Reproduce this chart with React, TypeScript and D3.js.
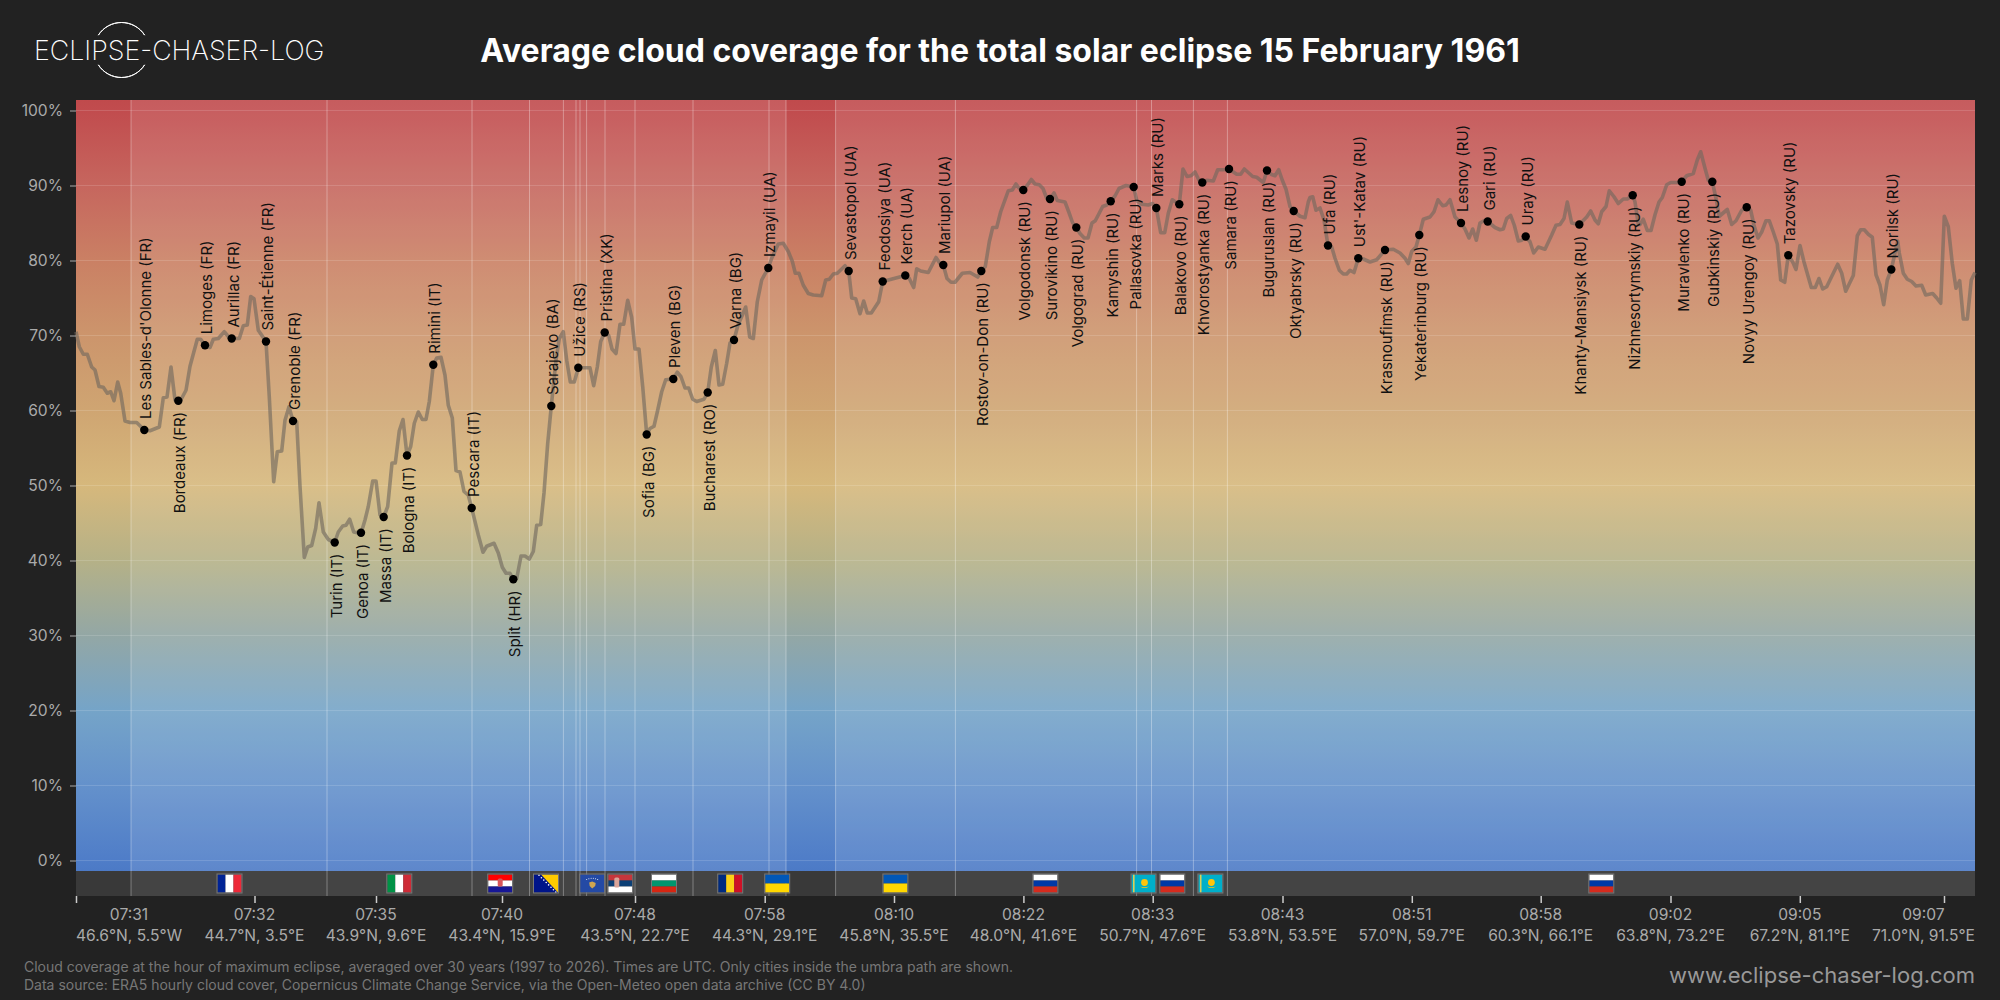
import React, { useEffect, useRef } from 'react';
import * as d3 from 'd3';

const FONT = 'Inter, "Noto Sans", sans-serif';

// position along the umbra track (0 = start of the plotted track) and cloud cover in %
const trackPos = [
  0, 3.3, 7.3, 11.3, 15.7, 19, 23, 27.3, 31.3, 34.7, 38, 41.7, 44.7, 49, 54, 60.7, 68.3, 74, 83.3, 87.3, 91, 95, 99, 104, 110, 114, 121.3, 124.7, 129, 134, 137.3, 142.3, 148.3, 152.7, 155.7, 163.3, 167.3, 171.3, 174.7, 178, 182.3, 190, 193.3, 197.7, 201.3, 205.7, 209, 213, 217, 220.7, 224, 228.3, 231.7, 235.7, 239.7, 243, 247.3, 252.3, 258.7, 262.3, 266.7, 270, 273.7, 277.7, 285, 289, 292.3, 296.7, 300, 304, 307.7, 311.7, 316, 319.3, 323.3, 327, 331, 334.7, 338.3, 342.3, 346.3, 350, 353.3, 357.3, 360.7, 365, 369, 372.3, 376.3, 380, 384, 388, 392.3, 395.7, 402.3, 407, 410.7, 418, 422.3, 426.3, 430, 434, 437.3, 440.7, 445, 449, 453.3, 457.3, 460.7, 464.7, 468, 471.7, 475.3,
  480, 483.3, 487.3, 490.7, 494.3, 498.3, 502.3, 514, 517.7, 521.3, 524.7, 528.7, 532.7, 536, 540, 544, 547.7, 551.7, 555.7, 559, 563, 566.7, 570.7, 574, 578, 581.3, 585.7, 589.7, 597.3, 601.3, 605, 609, 612.7, 616.7, 620.7, 628, 631.7, 635.3, 639.3, 643, 646.7, 650.7, 654, 658, 662, 666.3, 669.7, 673.7, 677.3, 681.3, 685.7, 692.3, 695.7, 702.3, 707.3, 712.3, 716.3, 719.3, 723, 727.3, 732.3, 737.3, 745.7, 749.7, 753.3, 757.3, 761.3, 769, 772.7, 775.7, 779.7, 784, 787.7, 791.3, 795.3, 802.7, 806.7,
  829.3, 833.3, 837.7, 840.7, 844.7, 852.3, 860, 864, 867.3, 871, 875, 879, 886.3, 894, 901.7, 905.3, 909.3, 913.3, 916.7, 920.7, 924.7, 932.3, 936.3, 940, 944, 947.3, 951.7, 955.3, 959, 963.3, 967, 970.7, 974, 978, 981.3, 989, 992.7, 996.7, 1000.3, 1004, 1008.3, 1012, 1016, 1019.3, 1026.7, 1030.7, 1034.7, 1039, 1043, 1050, 1057.7, 1060.7, 1065.7, 1072.3, 1076.7, 1080.3, 1084.7, 1088.7, 1092.3, 1096.3, 1099.7, 1103.3, 1107, 1111, 1115, 1119, 1123, 1126.3, 1130.7, 1137.3, 1141.7, 1147.3, 1153, 1160.7, 1164.7, 1168.3, 1176.7, 1180.7, 1187.3, 1191, 1195, 1199, 1202.7, 1206.3, 1210, 1214, 1217.7,
  1224, 1229, 1232.3, 1234, 1236.7, 1240, 1244, 1248, 1252, 1255.7, 1259, 1263.3, 1267.3, 1270.7, 1274, 1278, 1282.3, 1287.3, 1294, 1300.7, 1309, 1317.3, 1324, 1329, 1332.3, 1335.7, 1340, 1343.3, 1347.3, 1354, 1358, 1362, 1366.7, 1370, 1374, 1379, 1385, 1389, 1393, 1396.7, 1400.3, 1404, 1408, 1411.7, 1419, 1424, 1427.3, 1430.7, 1434.7, 1438.3, 1442.3, 1445.7, 1449.7, 1454, 1457.7, 1462.3, 1469, 1475.7, 1480, 1484, 1488, 1491.3, 1495.7, 1503.3, 1510.7, 1514.7, 1519, 1522.3, 1525.7, 1530, 1533.3, 1538, 1542.3, 1547.3, 1551.3, 1556.7,
  1559, 1562.3, 1564, 1567.3, 1571.3, 1575, 1579, 1583, 1586.3, 1590.7, 1594.7, 1601.7, 1605.7, 1610.7, 1617.3, 1621.3, 1624.7, 1629, 1632.3, 1636.3, 1640, 1643.3, 1651.3, 1655.7, 1660, 1665.7, 1670.7, 1674.7, 1678, 1682, 1685.7, 1690, 1693.3, 1697.3, 1701.3, 1704.7, 1708.7, 1712.3, 1716.7, 1720, 1724, 1728, 1735.3, 1739.3, 1743, 1746.7, 1750.7, 1758, 1761.7, 1765.7, 1769.7, 1777.3, 1781.3, 1784.7, 1788.3, 1792.3, 1796.3, 1800, 1804, 1807.7, 1811.3, 1815.3, 1819, 1821.7, 1823.3, 1827.3, 1831.3, 1835.7, 1840, 1845.7, 1849.7, 1856.7, 1860.7, 1864.7, 1868.3, 1872.3, 1876.3, 1880, 1883.7, 1887.3, 1891.3, 1895.3, 1899,
];

const cloudPct = [
  70.5, 68.5, 67.5, 67.5, 65.8, 65.4, 63.2, 63.1, 62.3, 62.5, 61.3, 63.8, 62.3, 58.6, 58.4, 58.4, 57.4, 57.3, 57.8, 61.7, 61.8, 65.8, 61.4, 61.2, 62.7, 65.9, 69.5, 69.5, 68.7, 68.4, 69.5, 69.6, 70.5, 69.8, 69.6, 69.6, 71.3, 71.4, 75.2, 74.9, 70.7, 69.2, 61.8, 50.5, 54.5, 54.6, 58.7, 60.5, 58.6, 58.5, 49.9, 40.4, 41.8, 42, 44.3, 47.7, 43.8, 42.8, 42.4, 43.8, 44.6, 44.7, 45.5, 43.8, 43.6, 45.4, 47.2, 50.6, 50.6, 46.1, 45.8, 47.2, 53, 53, 57.3, 58.8, 54, 55.2, 58.3, 59.8, 58.8, 58.8, 61.2, 66.1, 67, 67.1, 64.7, 60.7, 59, 52, 51.8, 49.2, 48.7, 47, 43.4, 41.1, 41.9, 42.3, 41, 39.1, 38.3, 38.3, 37.5, 37.6, 40.6, 40.6, 40.2, 41.2, 44.7, 44.8, 49, 55.6, 60.6,
  66.7, 69.6, 70.5, 66.7, 63.8, 63.8, 65.7, 65.7, 63.3, 65.8, 69.2, 70.4, 70, 68.2, 67.6, 71.5, 71.5, 74.7, 72.4, 68.2, 68.2, 63.2, 56.8, 57.6, 57.9, 59.8, 62.5, 64.1, 64.2, 65.1, 64.5, 63, 63, 61.5, 61.2, 61.5, 62.4, 65.8, 68, 63.4, 63.5, 66.3, 69, 69.4, 71.4, 72.7, 73.8, 69.8, 69.6, 74.5, 77.4, 79, 80.3, 82.2, 82.3, 81.2, 79.9, 78.3, 78.3, 76.7, 75.6, 75.4, 75.3, 77.4, 77.5, 78.2, 78.3, 79.3, 78.6, 75, 74.9, 72.9, 74.6, 73, 73, 74.5, 77.2,
  78, 77.6, 76.4, 78.9, 78.6, 78.4, 80.4, 79.6, 79.4, 77.6, 77.1, 77.1, 78.3, 78.4, 77.8, 78.6, 79.2, 82.5, 84.4, 84.4, 86.5, 89.3, 89.4, 90.2, 89.5, 89.4, 90.1, 90.8, 90.2, 90.1, 89.6, 88.3, 88.2, 89, 88, 87.8, 86.5, 85, 84.4, 83.6, 83, 83, 85, 85.3, 87.2, 87.4, 87.9, 88.6, 89.6, 90, 89.8, 88, 87.5, 87.4, 87.6, 87, 83.7, 83.7, 86.3, 88.1, 87.8, 87.5, 92.2, 91.2, 91.3, 91.8, 90.7, 90.4, 90.7, 90.6, 92.1, 92.1, 92.2, 91.5, 91.5, 92.2, 91.2, 91.1, 90.4, 92, 91.5, 91.3, 92.1, 90.7, 89.5, 87.2, 86.6,
  85.9, 85.7, 87.8, 88.4, 88.5, 86.7, 87, 85.4, 82, 81.8, 80.3, 78.7, 78.2, 78.2, 78.7, 78.4, 80.3, 80.2, 79.8, 80.1, 81.4, 81.5, 81, 80.3, 79.6, 81.2, 81.8, 83.4, 85.5, 85.8, 86.5, 88.1, 87.3, 87.4, 88.1, 85.8, 85, 84.2, 83, 84.2, 82.7, 85, 85.3, 85.2, 84.4, 84.1, 84.2, 85.6, 86, 84.7, 82.6, 82.7, 83.2, 82.5, 81, 81.8, 81.5, 83.4, 84.7, 84.8, 85.6, 87.8, 85, 84.8, 85.8, 86.6, 85.4, 84.9, 86.5, 87.2, 89.3, 88.5, 87.6, 88.2, 88.2, 88.7,
  87.8, 84.8, 84.8, 85.5, 84, 84, 86.1, 87.8, 88.4, 90.1, 90.4, 90.4, 90.5, 91.3, 91.6, 93.4, 94.5, 92.3, 90.7, 90.5, 88.3, 85.9, 86.8, 84.8, 85.3, 86.7, 87.1, 86.7, 84.7, 83, 83.8, 85.3, 85.3, 83.8, 82.2, 77.4, 77.1, 80.7, 79.8, 78.8, 82, 79.8, 76.4, 76.4, 77.6, 76.2, 76.5, 78.5, 79.5, 78.3, 75.9, 78, 83.3, 84.1, 84.1, 83.5, 83.1, 78.1, 76.7, 74.1, 77.4, 78.8, 81, 82.6, 81, 78.3, 77.5, 77.2, 76.6, 76.7, 75.4, 75.6, 75, 74.3, 85.9, 84.5, 79.6, 76.3, 77.3, 72.2, 72.2, 77.4, 78.4,
];

const cityNames = [
  "Les Sables-d'Olonne (FR)", 'Bordeaux (FR)', 'Limoges (FR)', 'Aurillac (FR)', 'Saint-Étienne (FR)', 'Grenoble (FR)', 'Turin (IT)', 'Genoa (IT)', 'Massa (IT)', 'Bologna (IT)', 'Rimini (IT)', 'Pescara (IT)', 'Split (HR)', 'Sarajevo (BA)', 'Užice (RS)', 'Pristina (XK)', 'Sofia (BG)', 'Pleven (BG)', 'Bucharest (RO)', 'Varna (BG)', 'Izmayil (UA)', 'Sevastopol (UA)', 'Feodosiya (UA)', 'Kerch (UA)', 'Mariupol (UA)', 'Rostov-on-Don (RU)', 'Volgodonsk (RU)', 'Surovikino (RU)', 'Volgograd (RU)', 'Kamyshin (RU)', 'Pallasovka (RU)', 'Marks (RU)', 'Balakovo (RU)', 'Khvorostyanka (RU)', 'Samara (RU)', 'Buguruslan (RU)', 'Oktyabrsky (RU)', 'Ufa (RU)', "Ust'-Katav (RU)", 'Krasnoufimsk (RU)', 'Yekaterinburg (RU)', 'Lesnoy (RU)', 'Gari (RU)', 'Uray (RU)', 'Khanty-Mansiysk (RU)', 'Nizhnesortymskiy (RU)', 'Muravlenko (RU)', 'Gubkinskiy (RU)', 'Novyy Urengoy (RU)', 'Tazovsky (RU)', 'Norilsk (RU)',
];
const cityPos = [
  68.3, 102.3, 129, 155.7, 190, 217, 258.7, 285, 307.7, 331, 357.3, 395.7, 437.3, 475.3, 502.3, 528.7, 570.7, 597.3, 631.7, 658, 692.3, 772.7, 806.7, 829.3, 867.3, 905.3, 947.3, 974, 1000.3, 1034.7, 1057.7, 1080.3, 1103.3, 1126.3, 1153, 1191, 1217.7, 1252, 1282.3, 1309, 1343.3, 1385, 1411.7, 1449.7, 1503.3, 1556.7, 1605.7, 1636.3, 1670.7, 1712.3, 1815.3,
];
const cityPct = [
  57.4, 61.3, 68.7, 69.6, 69.2, 58.6, 42.4, 43.7, 45.8, 54, 66.1, 47, 37.5, 60.6, 65.7, 70.4, 56.8, 64.2, 62.4, 69.4, 79, 78.6, 77.2, 78, 79.4, 78.6, 89.4, 88.2, 84.4, 87.9, 89.8, 87, 87.5, 90.4, 92.2, 92, 86.6, 82, 80.3, 81.4, 83.4, 85, 85.2, 83.2, 84.8, 88.7, 90.5, 90.5, 87.1, 80.7, 78.8,
];
// 1 = label above the dot, 0 = label below
const cityAbove = [
  1, 0, 1, 1, 1, 1, 0, 0, 0, 0, 1, 1, 0, 1, 1, 1, 0, 1, 0, 1, 1, 1, 1, 1, 1, 0, 0, 0, 0, 0, 0, 1, 0, 0, 0, 0, 0, 1, 1, 0, 0, 1, 1, 1, 0, 0, 0, 0, 0, 1, 1,
];

const borderPos = [55, 251, 396, 453.5, 487.4, 500, 504, 510.6, 529, 559, 617, 693, 710, 759.6, 879.4, 1060.6, 1075.5, 1117.4, 1151.4];
const seaStart = [0, 710];
const seaEnd = [55, 759.6];

const flagCodes = ['FR', 'IT', 'HR', 'BA', 'XK', 'RS', 'BG', 'RO', 'UA', 'UA', 'RU', 'KZ', 'RU', 'KZ', 'RU'];
const flagPos = [153.5, 323.3, 424.2, 470, 516.2, 544.3, 588, 654.2, 701.2, 819.4, 969.4, 1067.5, 1096.3, 1134.4, 1525.3];

const tickPos = [0, 178.5, 300, 426, 559, 688.7, 818, 947.4, 1076.7, 1206.5, 1335.8, 1464.7, 1594.5, 1723.8, 1868];
const tickTimes = ['07:31', '07:32', '07:35', '07:40', '07:48', '07:58', '08:10', '08:22', '08:33', '08:43', '08:51', '08:58', '09:02', '09:05', '09:07'];
const tickCoords = ['46.6°N, 5.5°W', '44.7°N, 3.5°E', '43.9°N, 9.6°E', '43.4°N, 15.9°E', '43.5°N, 22.7°E', '44.3°N, 29.1°E', '45.8°N, 35.5°E', '48.0°N, 41.6°E', '50.7°N, 47.6°E', '53.8°N, 53.5°E', '57.0°N, 59.7°E', '60.3°N, 66.1°E', '63.8°N, 73.2°E', '67.2°N, 81.1°E', '71.0°N, 91.5°E'];

const yTicks = [0, 10, 20, 30, 40, 50, 60, 70, 80, 90, 100];

// vertical colour ramp of the plot background (value %, colour)
const rampPct = [101.4, 100, 90, 80, 70, 60, 50, 40, 30, 20, 10, 0, -1.5];
const rampColor = ['#c04a4c', '#c14c4e', '#c6665e', '#ca8064', '#cc956c', '#cfa572', '#d6b87c', '#b5b187', '#93a7a5', '#75a4c8', '#6491cb', '#4f7dc8', '#4c7ac6'];

const stripes: Record<string, { dir: 'h' | 'v'; colors: string[] }> = {
  FR: { dir: 'v', colors: ['#002395', '#ffffff', '#ed2939'] },
  IT: { dir: 'v', colors: ['#009246', '#ffffff', '#ce2b37'] },
  HR: { dir: 'h', colors: ['#ff0000', '#ffffff', '#171796'] },
  BA: { dir: 'h', colors: ['#001489'] },
  XK: { dir: 'h', colors: ['#244aa5'] },
  RS: { dir: 'h', colors: ['#c6363c', '#0c4076', '#ffffff'] },
  BG: { dir: 'h', colors: ['#ffffff', '#00966e', '#d62612'] },
  RO: { dir: 'v', colors: ['#002b7f', '#fcd116', '#ce1126'] },
  UA: { dir: 'h', colors: ['#0057b7', '#ffd700'] },
  RU: { dir: 'h', colors: ['#ffffff', '#0039a6', '#d52b1e'] },
  KZ: { dir: 'h', colors: ['#00afca'] },
};

const W = 2000;
const H = 1000;
const PLOT = { left: 76, right: 1975, top: 100, bottom: 871, band: 896 };

const App: React.FC = () => {
  const ref = useRef<SVGSVGElement>(null);

  useEffect(() => {
    const svg = d3.select(ref.current);
    svg.selectAll('*').remove();

    const x = d3.scaleLinear().domain([0, 1899]).range([PLOT.left, PLOT.right]);
    const y = d3.scaleLinear().domain([0, 100]).range([860.5, 110.5]);

    svg.append('rect').attr('width', W).attr('height', H).attr('fill', '#222222');

    // background gradient
    const grad = svg.append('defs').append('linearGradient')
      .attr('id', 'cloudRamp').attr('gradientUnits', 'userSpaceOnUse')
      .attr('x1', 0).attr('x2', 0).attr('y1', PLOT.top).attr('y2', PLOT.bottom);
    rampPct.forEach((p, i) => {
      grad.append('stop')
        .attr('offset', (y(p) - PLOT.top) / (PLOT.bottom - PLOT.top))
        .attr('stop-color', rampColor[i]);
    });

    svg.append('rect')
      .attr('x', PLOT.left).attr('y', PLOT.top)
      .attr('width', PLOT.right - PLOT.left).attr('height', PLOT.bottom - PLOT.top)
      .attr('fill', 'url(#cloudRamp)');

    // band with the flags
    svg.append('rect')
      .attr('x', PLOT.left).attr('y', PLOT.bottom)
      .attr('width', PLOT.right - PLOT.left).attr('height', PLOT.band - PLOT.bottom)
      .attr('fill', '#444444');

    // sea sections are plain, land gets a light veil
    const landStart = [0, ...seaEnd];
    const landEnd = [...seaStart, 1899];
    landStart.forEach((s, i) => {
      if (landEnd[i] <= s) return;
      svg.append('rect')
        .attr('x', x(s)).attr('y', PLOT.top)
        .attr('width', x(landEnd[i]) - x(s)).attr('height', PLOT.bottom - PLOT.top)
        .attr('fill', '#ffffff').attr('opacity', 0.1);
    });
    seaStart.forEach((s, i) => {
      svg.append('rect')
        .attr('x', x(s)).attr('y', PLOT.bottom)
        .attr('width', x(seaEnd[i]) - x(s)).attr('height', PLOT.band - PLOT.bottom)
        .attr('fill', '#393939');
    });

    // grid
    svg.append('g').selectAll('line').data(yTicks).enter().append('line')
      .attr('x1', PLOT.left).attr('x2', PLOT.right)
      .attr('y1', d => y(d)).attr('y2', d => y(d))
      .attr('stroke', '#ffffff').attr('stroke-opacity', 0.14).attr('stroke-width', 1);

    svg.append('g').selectAll('line').data(borderPos).enter().append('line')
      .attr('x1', d => x(d)).attr('x2', d => x(d))
      .attr('y1', PLOT.top).attr('y2', PLOT.band)
      .attr('stroke', '#ffffff').attr('stroke-opacity', 0.32).attr('stroke-width', 1);

    // cloud line
    const line = d3.line<number>().x((_, i) => x(trackPos[i])).y(d => y(d));
    svg.append('path')
      .attr('d', line(cloudPct))
      .attr('fill', 'none')
      .attr('stroke', '#70685e').attr('stroke-opacity', 0.62)
      .attr('stroke-width', 3.6).attr('stroke-linejoin', 'round');

    // cities
    svg.append('g').selectAll('circle').data(cityPos).enter().append('circle')
      .attr('cx', d => x(d)).attr('cy', (_, i) => y(cityPct[i])).attr('r', 4.2)
      .attr('fill', '#000000');

    svg.append('g').selectAll('text').data(cityNames).enter().append('text')
      .attr('transform', (_, i) => {
        const off = cityAbove[i] ? -11 : 11;
        return `translate(${x(cityPos[i]) + 1.5},${y(cityPct[i]) + off}) rotate(-90)`;
      })
      .attr('text-anchor', (_, i) => (cityAbove[i] ? 'start' : 'end'))
      .attr('dominant-baseline', 'central')
      .style('font-family', FONT).style('font-size', '15px').attr('fill', '#111111')
      .text(d => d);

    // flags
    const flags = svg.append('g');
    flagCodes.forEach((code, i) => {
      const fw = 24;
      const fh = 18;
      const g = flags.append('g').attr('transform', `translate(${x(flagPos[i]) - fw / 2},${874.5})`);
      const s = stripes[code];
      s.colors.forEach((c, k) => {
        const n = s.colors.length;
        g.append('rect')
          .attr('x', s.dir === 'v' ? (k * fw) / n : 0)
          .attr('y', s.dir === 'h' ? (k * fh) / n : 0)
          .attr('width', s.dir === 'v' ? fw / n : fw)
          .attr('height', s.dir === 'h' ? fh / n : fh)
          .attr('fill', c);
      });
      if (code === 'HR') {
        g.append('rect').attr('x', 9.5).attr('y', 4).attr('width', 5).attr('height', 8).attr('rx', 1.5).attr('fill', '#d8555a');
      }
      if (code === 'RS') {
        g.append('rect').attr('x', 6).attr('y', 3).attr('width', 5).attr('height', 10).attr('rx', 1.5).attr('fill', '#d9a59a');
      }
      if (code === 'BA') {
        g.append('path').attr('d', 'M7,0 L24,0 L24,18 Z').attr('fill', '#fecb00');
        d3.range(0, 8).forEach(k => {
          g.append('circle').attr('cx', 5 + k * 2.4).attr('cy', 0.8 + k * 2.4).attr('r', 0.8).attr('fill', '#ffffff');
        });
      }
      if (code === 'XK') {
        g.append('path').attr('d', 'M9,8 L12,7 L15.5,8.5 L15,11.5 L12,14 L9.5,11.5 Z').attr('fill', '#d0a650');
        d3.range(0, 6).forEach(k => {
          g.append('circle').attr('cx', 6.5 + k * 2.2).attr('cy', 5 - Math.sin((k / 5) * Math.PI) * 1.2).attr('r', 0.5).attr('fill', '#ffffff');
        });
      }
      if (code === 'KZ') {
        g.append('rect').attr('x', 1.5).attr('y', 0).attr('width', 1.6).attr('height', fh).attr('fill', '#d9cf5a');
        g.append('circle').attr('cx', 13).attr('cy', 8).attr('r', 3.4).attr('fill', '#fec50c');
        g.append('path').attr('d', 'M8.5,12 Q13,15 17.5,12 Q13,13.5 8.5,12 Z').attr('fill', '#fec50c');
      }
      g.append('rect').attr('x', -0.5).attr('y', -0.5).attr('width', fw + 1).attr('height', fh + 1)
        .attr('fill', 'none').attr('stroke', '#777777').attr('stroke-width', 1);
    });

    // y axis
    const yAxis = svg.append('g')
      .attr('transform', `translate(${PLOT.left},0)`)
      .call(d3.axisLeft(y).tickValues(yTicks).tickSize(6).tickPadding(7).tickFormat(d => `${d}%`));
    yAxis.select('.domain').remove();
    yAxis.selectAll('line').attr('stroke', '#aaaaaa');
    yAxis.selectAll('text').attr('fill', '#aaaaaa').style('font-family', FONT).style('font-size', '15.6px');

    // x axis ticks + two-line labels, kept inside the plot width
    const xAxis = svg.append('g')
      .attr('transform', `translate(0,${PLOT.band})`)
      .call(d3.axisBottom(x).tickValues(tickPos).tickSize(7).tickFormat(() => ''));
    xAxis.select('.domain').remove();
    xAxis.selectAll('line').attr('stroke', '#cccccc').attr('stroke-width', 1.5);

    tickPos.forEach((p, i) => {
      const g = svg.append('g');
      const coord = g.append('text').attr('y', 941)
        .attr('text-anchor', 'middle').attr('fill', '#aaaaaa')
        .style('font-family', FONT).style('font-size', '15.6px').text(tickCoords[i]);
      const w = (coord.node() as SVGTextElement).getComputedTextLength();
      const cx = Math.min(Math.max(x(p), PLOT.left + w / 2), PLOT.right - w / 2);
      coord.attr('x', cx);
      g.append('text').attr('x', cx).attr('y', 919.5)
        .attr('text-anchor', 'middle').attr('fill', '#aaaaaa')
        .style('font-family', FONT).style('font-size', '15.6px').text(tickTimes[i]);
    });

    // header
    svg.append('text').attr('x', 1000).attr('y', 61.5).attr('text-anchor', 'middle')
      .attr('fill', '#ffffff').style('font-family', FONT).style('font-weight', 700).style('font-size', '32px')
      .text('Average cloud coverage for the total solar eclipse 15 February 1961');

    // logo
    const logo = svg.append('g');
    logo.append('text').attr('x', 34).attr('y', 59.5)
      .attr('fill', '#ffffff').style('font-family', FONT).style('font-weight', 200).style('font-size', '26.8px')
      .text('ECLIPSE-CHASER-LOG');
    const logoArc = d3.arc<{ startAngle: number; endAngle: number }>().innerRadius(27.5).outerRadius(27.5);
    [[-1, 1], [Math.PI - 1, Math.PI + 1]].forEach(([a, b]) => {
      logo.append('path')
        .attr('transform', 'translate(121.5,50)')
        .attr('d', logoArc({ startAngle: a, endAngle: b }) as string)
        .attr('fill', 'none').attr('stroke', '#ffffff').attr('stroke-width', 1);
    });

    // footer
    const notes = [
      'Cloud coverage at the hour of maximum eclipse, averaged over 30 years (1997 to 2026). Times are UTC. Only cities inside the umbra path are shown.',
      'Data source: ERA5 hourly cloud cover, Copernicus Climate Change Service, via the Open-Meteo open data archive (CC BY 4.0)',
    ];
    notes.forEach((t, i) => {
      svg.append('text').attr('x', 24).attr('y', 972 + i * 18)
        .attr('fill', '#777777').style('font-family', FONT).style('font-size', '14px').text(t);
    });
    svg.append('text').attr('x', PLOT.right).attr('y', 983).attr('text-anchor', 'end')
      .attr('fill', '#999999').style('font-family', FONT).style('font-size', '22px')
      .text('www.eclipse-chaser-log.com');
  }, []);

  return (
    <svg
      ref={ref}
      width={W}
      height={H}
      viewBox={`0 0 ${W} ${H}`}
      style={{ position: 'absolute', left: 0, top: 0, display: 'block' }}
    />
  );
};

export default App;
